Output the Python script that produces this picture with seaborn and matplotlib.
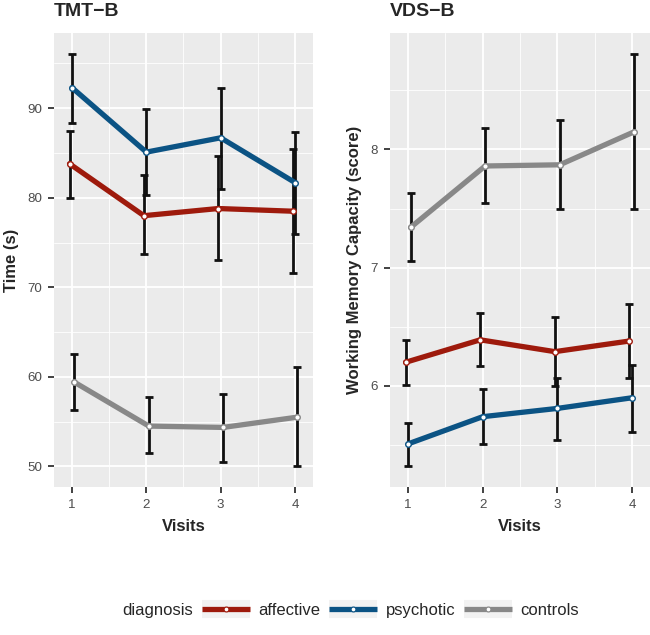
import pandas as pd
import matplotlib
matplotlib.use("Agg")
import matplotlib.pyplot as plt
import seaborn as sns
from matplotlib.lines import Line2D
from matplotlib.legend_handler import HandlerTuple
from matplotlib.ticker import MultipleLocator

# ---- data ----
visits = [1, 2, 3, 4]
groups = ["affective", "psychotic", "controls"]
colors = {"affective": "#9E1A0C", "psychotic": "#0B5384", "controls": "#888888"}
dodge = {"affective": -0.033, "psychotic": 0.0, "controls": 0.033}

# TMT-B, time (s)
tmt_mean = {"affective": [83.8, 78.0, 78.8, 78.5],
            "psychotic": [92.3, 85.1, 86.7, 81.7],
            "controls": [59.4, 54.5, 54.35, 55.5]}
tmt_lo = {"affective": [80.0, 73.7, 73.0, 71.6],
          "psychotic": [88.4, 80.3, 81.0, 76.0],
          "controls": [56.3, 51.5, 50.5, 50.0]}
tmt_hi = {"affective": [87.5, 82.5, 84.7, 85.4],
          "psychotic": [96.1, 89.9, 92.3, 87.4],
          "controls": [62.5, 57.7, 58.1, 61.1]}

# VDS-B, working memory capacity (score)
vds_mean = {"affective": [6.20, 6.39, 6.29, 6.38],
            "psychotic": [5.51, 5.74, 5.81, 5.90],
            "controls": [7.34, 7.86, 7.87, 8.15]}
vds_lo = {"affective": [6.01, 6.17, 6.00, 6.07],
          "psychotic": [5.32, 5.51, 5.54, 5.61],
          "controls": [7.06, 7.55, 7.50, 7.50]}
vds_hi = {"affective": [6.39, 6.62, 6.58, 6.69],
          "psychotic": [5.69, 5.97, 6.07, 6.18],
          "controls": [7.63, 8.18, 8.25, 8.81]}


def make_df(mean, lo, hi):
    rows = []
    for g in groups:
        for i, v in enumerate(visits):
            rows.append({"diagnosis": g, "visit": v, "x": v + dodge[g],
                         "mean": mean[g][i], "lo": lo[g][i], "hi": hi[g][i]})
    return pd.DataFrame(rows)


tmt = make_df(tmt_mean, tmt_lo, tmt_hi)
vds = make_df(vds_mean, vds_lo, vds_hi)

sns.set_theme(style="darkgrid", rc={"axes.facecolor": "#EBEBEB",
                                    "grid.color": "white"})
plt.rcParams["font.family"] = ["Liberation Sans", "DejaVu Sans"]

fig = plt.figure(figsize=(6.5, 6.35), dpi=100)
ax1 = fig.add_axes([54 / 650, 148 / 635, 259 / 650, 454 / 635])
ax2 = fig.add_axes([390 / 650, 148 / 635, 260 / 650, 454 / 635])


def draw(ax, df, title, ylabel, minor_y):
    for g in groups:
        sub = df[df["diagnosis"] == g]
        ax.errorbar(sub["x"], sub["mean"],
                    yerr=[sub["mean"] - sub["lo"], sub["hi"] - sub["mean"]],
                    fmt="none", ecolor="#111111", elinewidth=2.0,
                    capsize=2.7, capthick=2.0, zorder=2)
    for g in groups:
        sub = df[df["diagnosis"] == g]
        sns.lineplot(data=sub, x="x", y="mean", ax=ax, color=colors[g],
                     linewidth=3.8, marker="o", markersize=4,
                     markerfacecolor="white", markeredgecolor=colors[g],
                     markeredgewidth=1.0, zorder=3, legend=False)
    ax.set_xlim(0.758, 4.242)
    ax.margins(y=0.05)
    ax.set_xticks(visits)
    ax.xaxis.set_minor_locator(MultipleLocator(0.5))
    ax.yaxis.set_minor_locator(MultipleLocator(minor_y))
    ax.grid(which="major", color="white", linewidth=1.3)
    ax.grid(which="minor", color="white", linewidth=0.6)
    ax.tick_params(which="major", bottom=True, left=True, length=4.5,
                   width=1.3, color="#333333", labelcolor="#4D4D4D",
                   labelsize=9.6, pad=4)
    ax.tick_params(which="minor", bottom=False, left=False, length=0)
    for s in ax.spines.values():
        s.set_visible(False)
    ax.set_xlabel("Visits", fontsize=12, fontweight="bold", labelpad=6)
    ax.set_ylabel(ylabel, fontsize=12, fontweight="bold", labelpad=6)
    ax.set_title(title, loc="left", fontsize=14, fontweight="bold", pad=12)


draw(ax1, tmt, "TMT\u2212B", "Time (s)", 5)
ax1.set_yticks([50, 60, 70, 80, 90])
draw(ax2, vds, "VDS\u2212B", "Working Memory Capacity (score)", 0.5)
ax2.set_yticks([6, 7, 8])

# legend along the bottom: gray key background + coloured line with dot
handles = []
for g in groups:
    key_bg = Line2D([], [], color="#F2F2F2", linewidth=13,
                    solid_capstyle="butt")
    key_line = Line2D([], [], color=colors[g], linewidth=3.8, marker="o",
                      markersize=3.5, markerfacecolor="white",
                      markeredgecolor=colors[g], markeredgewidth=0.8,
                      solid_capstyle="butt")
    handles.append((key_bg, key_line))

fig.text(193 / 650, 25 / 635, "diagnosis", ha="right", va="center",
         fontsize=12)
fig.legend(handles, groups,
           handler_map={tuple: HandlerTuple(ndivide=1, pad=0)},
           loc="center left", bbox_to_anchor=(202 / 650, 25 / 635),
           ncol=3, frameon=False, fontsize=12, borderpad=0,
           borderaxespad=0, handlelength=2.9, handleheight=1.0,
           handletextpad=0.5, columnspacing=0.5)

fig.savefig("out.png", dpi=100)
